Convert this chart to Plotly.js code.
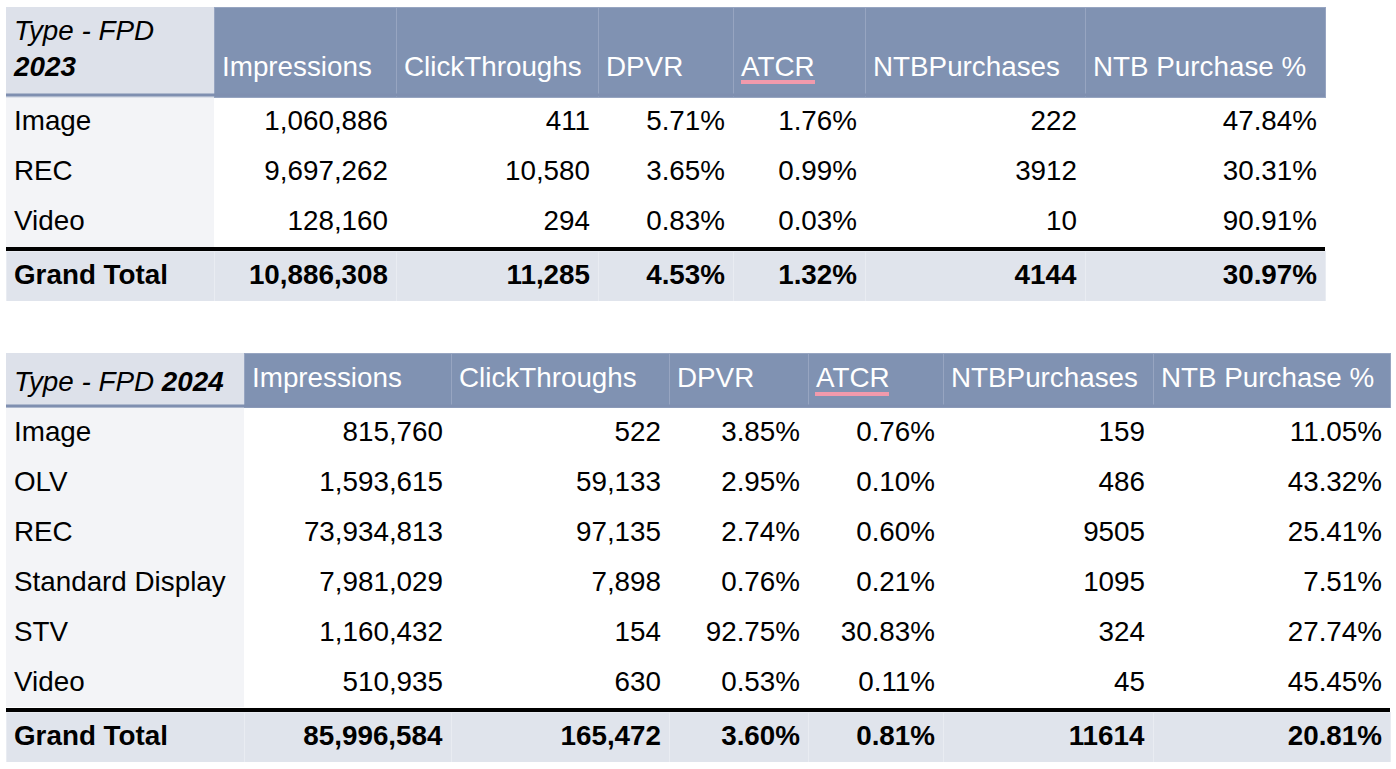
<!DOCTYPE html>
<html><head><meta charset="utf-8">
<script src="https://cdn.plot.ly/plotly-3.0.1.min.js"></script>
<style>html,body{margin:0;padding:0;background:#fff;}#chart{width:1396px;height:769px;}</style>
</head><body><div id="chart"></div>
<script>
// ---- Data ----
var headers = ["Impressions", "ClickThroughs", "DPVR", "ATCR", "NTBPurchases", "NTB Purchase %"];

var types2023 = ["Image", "REC", "Video"];
var impressions2023 = [1060886, 9697262, 128160];
var clicks2023 = [411, 10580, 294];
var dpvr2023 = [5.71, 3.65, 0.83];
var atcr2023 = [1.76, 0.99, 0.03];
var ntb2023 = [222, 3912, 10];
var ntbPct2023 = [47.84, 30.31, 90.91];
var total2023 = [10886308, 11285, 4.53, 1.32, 4144, 30.97];

var types2024 = ["Image", "OLV", "REC", "Standard Display", "STV", "Video"];
var impressions2024 = [815760, 1593615, 73934813, 7981029, 1160432, 510935];
var clicks2024 = [522, 59133, 97135, 7898, 154, 630];
var dpvr2024 = [3.85, 2.95, 2.74, 0.76, 92.75, 0.53];
var atcr2024 = [0.76, 0.10, 0.60, 0.21, 30.83, 0.11];
var ntb2024 = [159, 486, 9505, 1095, 324, 45];
var ntbPct2024 = [11.05, 43.32, 25.41, 7.51, 27.74, 45.45];
var total2024 = [85996584, 165472, 3.60, 0.81, 11614, 20.81];

// ---- Styling ----
var W = 1396, H = 769;
var FONT = "Liberation Sans, Arial, sans-serif";
var FS = 27.8;
var HEAD_BLUE = "#8092b2";
var HEAD_SEP = "#97a5c1";
var CORNER = "#dde1ea";
var TOTAL_BG = "#e0e4ec";
var TOTAL_SEP = "#e9ecf2";
var FIRSTCOL = "#f3f4f7";
var CLEAR = "rgba(0,0,0,0)";
var ALIGN = ["left", "right", "right", "right", "right", "right", "right"];

function comma(v){ return v.toLocaleString("en-US"); }
function pct(v){ return v.toFixed(2) + "%"; }
function plain(v){ return String(v); }
var FMT = [comma, comma, pct, pct, plain, pct];

function px(x){ return x / W; }
function py(y){ return 1 - y / H; }
function blank(arr){ return arr.map(function(){ return ""; }); }

// Builds background + text traces for one year's table
function yearTables(types, series, totals, cornerText, twoLine, x0, x1, top, headH, colW, dh, db, dt, totalTop) {
  var n = types.length;
  var cols = [types].concat(series.map(function(s, i){ return s.map(FMT[i]); }));
  var headVals = [cornerText].concat(headers.map(function(h){ return twoLine ? "\u00a0<br>" + h : h; }));
  var fills = cols.map(function(c, i){ return c.map(function(){ return i === 0 ? FIRSTCOL : "#ffffff"; }); });
  var headFill = [CORNER].concat(headers.map(function(){ return HEAD_BLUE; }));
  var headLine = [CORNER].concat(headers.map(function(){ return HEAD_SEP; }));
  var headFont = ["#000000"].concat(headers.map(function(){ return "#ffffff"; }));
  var bodyBottom = top + headH + 50 * n;
  var dom = [px(x0), px(x1)];

  var bg = {
    type: "table", domain: {x: dom, y: [py(bodyBottom), py(top)]}, columnwidth: colW,
    header: {values: blank(headVals), height: headH, fill: {color: headFill}, line: {color: headLine, width: 1},
             font: {family: FONT, size: FS}},
    cells: {values: cols.map(blank), height: 50, fill: {color: fills}, line: {color: fills, width: 1},
            font: {family: FONT, size: FS}}
  };
  var txt = {
    type: "table", domain: {x: dom, y: [py(bodyBottom + db + 4), py(top + dh)]}, columnwidth: colW,
    header: {values: headVals, align: "left", height: headH + (db - dh), fill: {color: CLEAR}, line: {color: CLEAR, width: 0},
             font: {family: FONT, size: FS, color: headFont}},
    cells: {values: cols, align: ALIGN, height: 50, fill: {color: CLEAR}, line: {color: CLEAR, width: 0},
            font: {family: FONT, size: FS, color: "#000000"}}
  };
  var totVals = ["<b>Grand Total</b>"].concat(totals.map(function(v, i){ return "<b>" + FMT[i](v) + "</b>"; }));
  var totBg = {
    type: "table", domain: {x: dom, y: [py(totalTop + 50), py(totalTop)]}, columnwidth: colW,
    header: {values: blank(totVals), height: 50, fill: {color: TOTAL_BG}, line: {color: TOTAL_SEP, width: 1},
             font: {family: FONT, size: FS}},
    cells: {values: []}
  };
  var totTxt = {
    type: "table", domain: {x: dom, y: [py(totalTop + 50 + dt + 4), py(totalTop + dt)]}, columnwidth: colW,
    header: {values: totVals, align: ALIGN, height: 50, fill: {color: CLEAR}, line: {color: CLEAR, width: 0},
             font: {family: FONT, size: FS, color: "#000000"}},
    cells: {values: []}
  };
  return [bg, totBg, txt, totTxt];
}

var traces = []
  .concat(yearTables(types2023, [impressions2023, clicks2023, dpvr2023, atcr2023, ntb2023, ntbPct2023], total2023,
    "<i>Type - FPD</i><br><b><i>2023</i></b>", true, 6, 1325, 7, 90, [208, 182, 202, 135, 132, 220, 240], 0, 4, 0, 251))
  .concat(yearTables(types2024, [impressions2024, clicks2024, dpvr2024, atcr2024, ntb2024, ntbPct2024], total2024,
    "<i>Type - FPD </i><b><i>2024</i></b>", false, 6, 1390, 353, 54, [238, 207, 218, 139, 135, 210, 237], 5, 5, 0, 712));

function hline(x0, x1, y, color, w){
  return {type: "line", xref: "paper", yref: "paper", x0: px(x0), x1: px(x1), y0: py(y), y1: py(y), line: {color: color, width: w}};
}

var shapes = [
  hline(6, 1325, 95, "#7f8fb0", 3),
  hline(6, 1325, 249, "#000000", 4),
  hline(741, 815, 82, "#f29aac", 4),
  hline(6, 1390, 406, "#7f8fb0", 3),
  hline(6, 1390, 710, "#000000", 4),
  hline(815, 889, 394, "#f29aac", 4)
];

var layout = {
  width: W, height: H,
  margin: {l: 0, r: 0, t: 0, b: 0},
  paper_bgcolor: "#ffffff",
  shapes: shapes,
  showlegend: false
};

Plotly.newPlot("chart", traces, layout, {displayModeBar: false, staticPlot: true});
</script>
</body></html>
